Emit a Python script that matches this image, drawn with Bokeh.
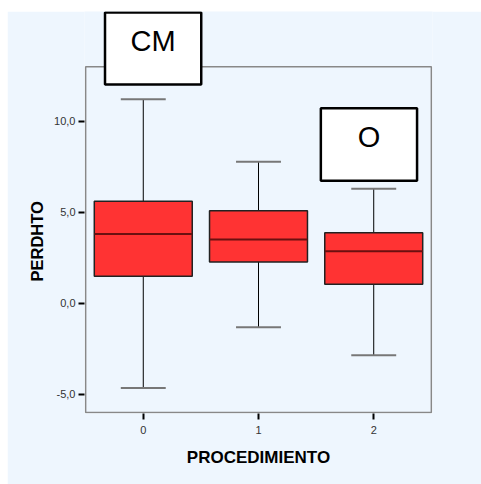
from bokeh.plotting import figure
from bokeh.models import BoxAnnotation, Label, FixedTicker, CustomJSTickFormatter, Title
from bokeh.embed import file_html
from bokeh.resources import INLINE

# Box-plot summary of PERDHTO per PROCEDIMIENTO group
groups = [0, 1, 2]
whisker_low = [-4.65, -1.32, -2.86]
q1 = [1.48, 2.27, 1.04]
median = [3.81, 3.50, 2.86]
q3 = [5.60, 5.08, 3.87]
whisker_high = [11.21, 7.77, 6.29]

y_ticks = [-5.0, 0.0, 5.0, 10.0]
tag_texts = ["CM", "O"]

# visible chart box (axis limits); the plot area extends above it so the
# tag boxes can overhang the top edge
AX_X = (-0.5, 2.5)
AX_Y = (-6.0, 13.0)

BG = "#EEF6FE"
p = figure(width=474, height=473, x_range=(-0.51, 2.51), y_range=(-6.055, 16.03),
           output_backend="svg", toolbar_location=None,
           background_fill_color=BG, border_fill_color=BG,
           min_border_left=77, min_border_right=49,
           min_border_top=0, min_border_bottom=71)
p.margin = (11, 0, 0, 7)
p.outline_line_color = None
p.grid.visible = False

for ax in (p.xaxis[0], p.yaxis[0]):
    ax.axis_line_color = None
    ax.major_tick_line_color = "black"
    ax.major_tick_line_width = 2
    ax.major_tick_out = 6
    ax.major_tick_in = 0
    ax.minor_tick_line_color = None
    ax.major_label_text_font = "Liberation Sans"
    ax.major_label_text_font_size = "11px"
    ax.major_label_text_color = "#333333"
    ax.axis_label_text_font = "Liberation Sans"
    ax.axis_label_text_font_style = "bold"
    ax.axis_label_text_font_size = "17px"
    ax.axis_label_text_color = "black"

p.xaxis.axis_label = "PROCEDIMIENTO"
p.xaxis.ticker = FixedTicker(ticks=groups)
p.xaxis.major_label_standoff = 6
p.xaxis.axis_label_standoff = 11

p.yaxis.ticker = FixedTicker(ticks=y_ticks)
p.yaxis.formatter = CustomJSTickFormatter(code="return tick.toFixed(1).replace('.', ',');")
p.yaxis.major_label_standoff = 3

# y-axis title, placed along the visible chart box rather than the plot area
p.add_layout(Title(text="PERDHTO", align="left", offset=132, standoff=12,
                   text_font="Liberation Sans", text_font_style="bold",
                   text_font_size="16.5px", text_color="black"), "left")

# chart box outline
p.quad(left=[AX_X[0]], right=[AX_X[1]], bottom=[AX_Y[0]], top=[AX_Y[1]],
       fill_color=None, line_color="#888888", line_width=1.5)

box_w = 0.85
cap_w = 0.39

# whisker stems
p.segment(x0=groups, y0=whisker_low, x1=groups, y1=q1, line_color="black", line_width=1)
p.segment(x0=groups, y0=q3, x1=groups, y1=whisker_high, line_color="black", line_width=1)
# caps
p.segment(x0=[g - cap_w / 2 for g in groups], y0=whisker_low,
          x1=[g + cap_w / 2 for g in groups], y1=whisker_low,
          line_color="#777777", line_width=2)
p.segment(x0=[g - cap_w / 2 for g in groups], y0=whisker_high,
          x1=[g + cap_w / 2 for g in groups], y1=whisker_high,
          line_color="#777777", line_width=2)
# boxes
p.vbar(x=groups, width=box_w, bottom=q1, top=q3, fill_color="#FF3333",
       line_color="#222222", line_width=1.5)
# medians
p.segment(x0=[g - box_w / 2 for g in groups], y0=median,
          x1=[g + box_w / 2 for g in groups], y1=median,
          line_color="#6B1010", line_width=2)

# tag boxes
tag_boxes = [(-0.332, 0.503, 12.02, 15.98), (1.541, 2.376, 6.73, 10.71)]
for (l, r, b, t), txt in zip(tag_boxes, tag_texts):
    p.add_layout(BoxAnnotation(left=l, right=r, bottom=b, top=t,
                               fill_color="white", fill_alpha=1.0,
                               line_color="black", line_width=2.5,
                               line_alpha=1.0))
    p.add_layout(Label(x=(l + r) / 2, y=t - (t - b) * 0.40, text=txt,
                       text_align="center", text_baseline="middle",
                       text_font="Liberation Sans", text_font_size="29px",
                       text_color="black"))

html = file_html(p, INLINE)
html = html.replace("<body>", "<body style=\"margin:0;background:white\">")
open("out.html", "w").write(html)
